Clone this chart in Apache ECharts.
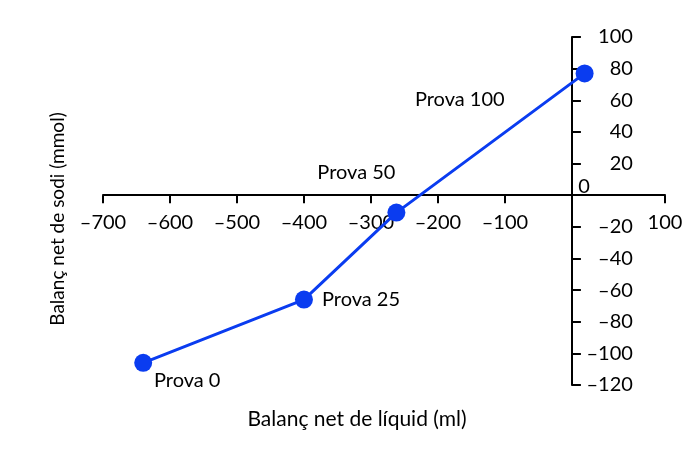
<!DOCTYPE html>
<html><head><meta charset="utf-8">
<script src="https://cdn.jsdelivr.net/npm/echarts@6/dist/echarts.min.js"></script>
<style>html,body{margin:0;padding:0;background:#fff}#c{width:700px;height:457px}</style>
</head><body><div id="c"></div>
<script>
const trials = ['Prova 0', 'Prova 25', 'Prova 50', 'Prova 100'];
const fluidBalance = [-640, -400, -262, 19];
const sodiumBalance = [-106, -66, -11, 77];
const xTicks = [-700, -600, -500, -400, -300, -200, -100];
const xEndValue = 139; const xEndLabel = '100';
const yTicks = [-120, -100, -80, -60, -40, -20, 0, 20, 40, 60, 80, 100];
const xTitle = 'Balanç net de líquid (ml)';
const yTitle = 'Balanç net de sodi (mmol)';

const font = 'Lato, "Open Sans", sans-serif';
const fs = 20;
const labelPos = [
  {position: 'bottom', offset: [44, -6]},
  {position: 'right', offset: [4, 0]},
  {position: 'top', offset: [-40, -16]},
  {position: 'left', offset: [-66, 26]}
];
const minus = v => String(v).replace('-', '\u2013');

const G = {left: 103, right: 35, top: 37, bottom: 72};
const chart = echarts.init(document.getElementById('c'));
const opt = {
  animation: false,
  grid: Object.assign({outerBoundsMode: 'none', containLabel: false}, G),
  xAxis: {
    type: 'value', min: -700, max: xEndValue, position: 'bottom', offset: 0,
    axisLine: {onZero: false, lineStyle: {color: '#000', width: 2}},
    axisTick: {show: true, length: 8, lineStyle: {color: '#000', width: 2},
      customValues: xTicks.concat([xEndValue])},
    axisLabel: {customValues: xTicks.concat([xEndValue]), margin: 17,
      color: '#000', fontFamily: font, fontSize: fs,
      formatter: v => v === xEndValue ? xEndLabel : minus(v)},
    splitLine: {show: false},
    name: xTitle, nameLocation: 'middle', nameGap: 214,
    nameTextStyle: {color: '#000', fontFamily: font, fontSize: 21, padding: [0, 54, 0, 0]}
  },
  yAxis: {
    type: 'value', min: -120, max: 100, interval: 20, position: 'left', offset: 0,
    axisLine: {onZero: false, lineStyle: {color: '#000', width: 2}},
    axisTick: {show: true, inside: true, length: 9, lineStyle: {color: '#000', width: 2}},
    axisLabel: {inside: true, align: 'right', margin: 61, color: '#000', fontFamily: font, fontSize: fs,
      formatter: v => v === 0 ? '{z|0}' : minus(v),
      rich: {z: {fontFamily: font, fontSize: fs, color: '#000', padding: [0, 43, 18, 0]}}},
    splitLine: {show: false},
    name: yTitle, nameLocation: 'middle', nameRotate: 90, nameGap: 505,
    nameTextStyle: {color: '#000', fontFamily: font, fontSize: 19, padding: [0, 16, 0, 0]}
  },
  series: [{
    type: 'line',
    data: fluidBalance.map((x, i) => ({
      value: [x, sodiumBalance[i]], name: trials[i],
      label: Object.assign({show: true, formatter: trials[i], color: '#000', fontFamily: font, fontSize: fs}, labelPos[i])
    })),
    symbol: 'circle', symbolSize: 18,
    lineStyle: {color: '#0a3cf0', width: 3},
    itemStyle: {color: '#0a3cf0'}
  }]
};
chart.setOption(opt);
// place each axis line on the other axis's zero
const x0 = chart.convertToPixel({xAxisIndex: 0}, 0);
const y0 = chart.convertToPixel({yAxisIndex: 0}, 0);
chart.setOption({
  xAxis: {offset: -((457 - G.bottom) - y0)},
  yAxis: {offset: -(x0 - G.left)}
});
</script></body></html>
